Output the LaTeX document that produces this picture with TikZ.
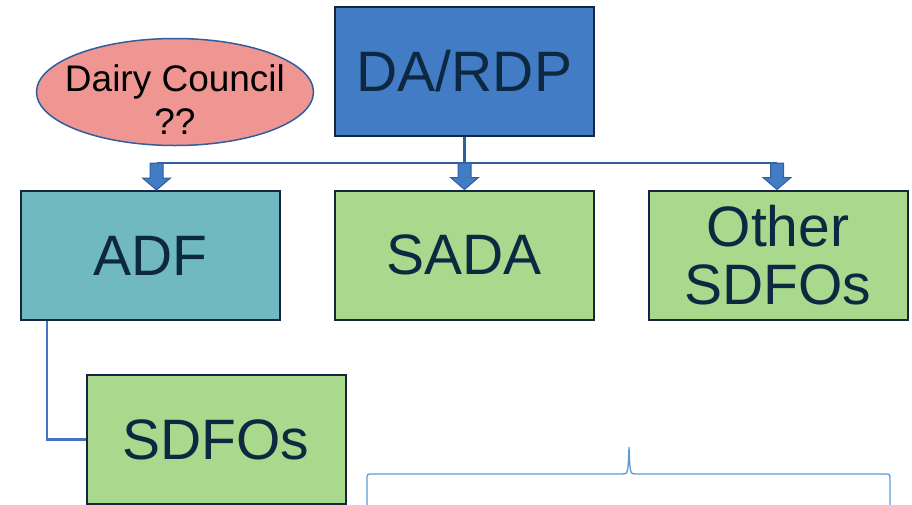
\documentclass[tikz,border=0pt]{standalone}
\usepackage{fontspec}
\setmainfont{Liberation Sans}
\usepackage{xcolor}
\usetikzlibrary{shapes.geometric,calc}
\definecolor{color_14065}{rgb}{0.055,0.157,0.255}
\definecolor{color_23861}{rgb}{0.090,0.149,0.251}
\definecolor{color_65124}{rgb}{0.255,0.486,0.769}
\definecolor{color_11218}{rgb}{0.439,0.725,0.753}
\definecolor{color_16821}{rgb}{0.659,0.851,0.553}
\definecolor{color_24015}{rgb}{0.941,0.588,0.573}
\definecolor{color_47859}{rgb}{0.184,0.373,0.620}
\definecolor{color_68114}{rgb}{0.267,0.447,0.769}
\definecolor{color_91155}{rgb}{0.357,0.608,0.835}

% Flèche pleine du bus (#1) vers le haut d'une boîte (#2)
\newcommand{\flechebloc}[2]{%
	\draw[fleche] let \p1=(#1), \p2=(#2) in
		(\x2-6.5pt,\y1) -- (\x2+6.5pt,\y1) -- (\x2+6.5pt,\y2+12pt) -- (\x2+14pt,\y2+12pt)
		-- (\x2,\y2) -- (\x2-14pt,\y2+12pt) -- (\x2-6.5pt,\y2+12pt) -- cycle;}

\begin{document}
\begin{tikzpicture}[x=1pt,y=-1pt,
		boite/.style={draw=color_23861, line width=2pt, minimum width=259pt, minimum height=129pt,
			inner sep=0pt, align=center, text=color_14065, font=\fontsize{57}{58}\selectfont},
		liaison/.style={color_47859, line width=2.5pt},
		fleche/.style={draw=color_47859, fill=color_65124, line width=1pt}]
		\useasboundingbox (0,0) rectangle (912,504);
		
		% Boîte du haut
		\node[boite, fill=color_65124] (dardp) at (464.5,71.5) {DA/RDP};
		
		% Ellipse - Dairy Council
		\node[ellipse, draw=color_47859, line width=1.5pt, fill=color_24015, minimum width=277pt,
			minimum height=107pt, inner sep=0pt] (conseil) at (175,92) {};
		\node[align=center, inner sep=0pt, font=\fontsize{37}{43}\selectfont]
			(conseiltxt) at (175,100) {Dairy Council\\??};
		
		% Deuxième niveau
		\node[boite, fill=color_11218] (adf) at (150.5,255.5) {ADF};
		\node[boite, fill=color_16821] (sada) at (464,255) {SADA};
		\node[boite, fill=color_16821] (autres) at (778,255) {Other\\SDFOs};
		
		% Troisième niveau - coupé par le bas
		\node[boite, fill=color_16821] (sdfos) at (216,439.5) {SDFOs};
		
		% Bus horizontal
		\coordinate (busG) at (156.5,163);
		\coordinate (busD) at (777,163);
		\draw[liaison] (busG) -- (busD);
		\draw[liaison] (dardp.south) -- (dardp.south |- busG);
		
		% Flèches vers les boîtes
		\flechebloc{busG}{busG |- adf.north}
		\flechebloc{busG}{dardp.south |- sada.north}
		\flechebloc{busD}{busD |- autres.north}
		
		% ADF vers SDFOs
		\draw[color_68114, line width=2.5pt] (adf.south -| 47,0) |- (sdfos.west);
		
		% Accolade
		\draw[color_91155, line width=1.3pt] (367,512) -- (367,480) .. controls (367,474) .. (373,474)
			-- (622,474) .. controls (628,474) .. (629,447) .. controls (630,474) .. (636,474)
			-- (884,474) .. controls (890,474) .. (890,480) -- (890,512);
	\end{tikzpicture}
\end{document}
